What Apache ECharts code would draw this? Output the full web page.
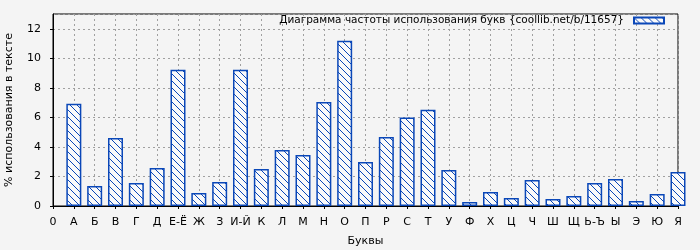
<!DOCTYPE html>
<html>
<head>
<meta charset="utf-8">
<script src="https://cdn.jsdelivr.net/npm/echarts@6/dist/echarts.min.js"></script>
<style>
html,body{margin:0;padding:0;background:#f4f4f4;}
#c{width:700px;height:250px;}
</style>
</head>
<body>
<div id="c"></div>
<script>
const categories = ['0','А','Б','В','Г','Д','Е-Ё','Ж','З','И-Й','К','Л','М','Н','О','П','Р','С','Т','У','Ф','Х','Ц','Ч','Ш','Щ','Ь-Ъ','Ы','Э','Ю','Я'];
const values = [null,6.92,1.36,4.61,1.56,2.58,9.22,0.88,1.63,9.22,2.51,3.80,3.46,7.05,11.19,2.98,4.68,5.99,6.51,2.44,0.27,0.95,0.54,1.76,0.47,0.68,1.56,1.83,0.34,0.81,2.31];
const seriesName = 'Диаграмма частоты использования букв {coollib.net/b/11657}';
const xAxisTitle = 'Буквы';
const yAxisTitle = '% использования в тексте';

const blue = '#0a47b8';
const T = 7;
const tile = document.createElement('canvas');
tile.width = T; tile.height = T;
const g = tile.getContext('2d');
g.fillStyle = '#fafafa';
g.fillRect(0,0,T,T);
g.strokeStyle = blue;
g.lineWidth = 1;
g.beginPath();
g.moveTo(-1,-1); g.lineTo(T+1,T+1);
g.moveTo(-1,T-1); g.lineTo(1,T+1);
g.moveTo(T-1,-1); g.lineTo(T+1,1);
g.stroke();

const chart = echarts.init(document.getElementById('c'), null, {renderer:'canvas'});
const font = 'DejaVu Sans';
chart.setOption({
  backgroundColor: '#f4f4f4',
  animation: false,
  textStyle: {fontFamily: font},
  grid: {left: 53, right: 22, top: 14, bottom: 44, outerBoundsMode: 'none', containLabel: false,
    show: true, borderColor: '#000', borderWidth: 1, backgroundColor: '#f4f4f4'},
  legend: {
    show: true, right: 35, top: 15, padding: 0, align: 'right',
    itemWidth: 30, itemHeight: 6,
    textStyle: {fontFamily: font, fontSize: 10.5, color: '#000', padding: [0, 5, 0, 0]},
    data: [{name: seriesName, icon: 'rect'}]
  },
  xAxis: {
    type: 'category', data: categories, boundaryGap: false,
    name: xAxisTitle, nameLocation: 'middle', nameGap: 30,
    nameTextStyle: {fontFamily: font, fontSize: 11, color: '#000'},
    axisLine: {lineStyle: {color: '#000', width: 1}},
    axisTick: {show: true, length: 3, interval: 0, lineStyle: {color: '#000'}},
    axisLabel: {interval: 0, margin: 11, fontFamily: font, fontSize: 11, color: '#000'},
    splitLine: {show: true, interval: 0, lineStyle: {color: '#a0a0a0', type: [2,3], width: 1}}
  },
  yAxis: {
    type: 'value', min: 0, max: 13, interval: 2,
    name: yAxisTitle, nameLocation: 'middle', nameGap: 38,
    nameTextStyle: {fontFamily: font, fontSize: 11, color: '#000'},
    axisLine: {show: true, lineStyle: {color: '#000', width: 1}},
    axisTick: {show: true, length: 3, lineStyle: {color: '#000'}},
    axisLabel: {margin: 12, fontFamily: font, fontSize: 11, color: '#000', showMaxLabel: false,
      formatter: v => (v > 12 ? '' : String(v))},
    splitLine: {show: true, lineStyle: {color: '#a0a0a0', type: [2,3], width: 1}}
  },
  series: [{
    name: seriesName, type: 'bar', data: values, barWidth: 15, clip: true,
    itemStyle: {color: {image: tile, repeat: 'repeat'}, borderColor: blue, borderWidth: 1.5}
  }]
});
</script>
</body>
</html>
